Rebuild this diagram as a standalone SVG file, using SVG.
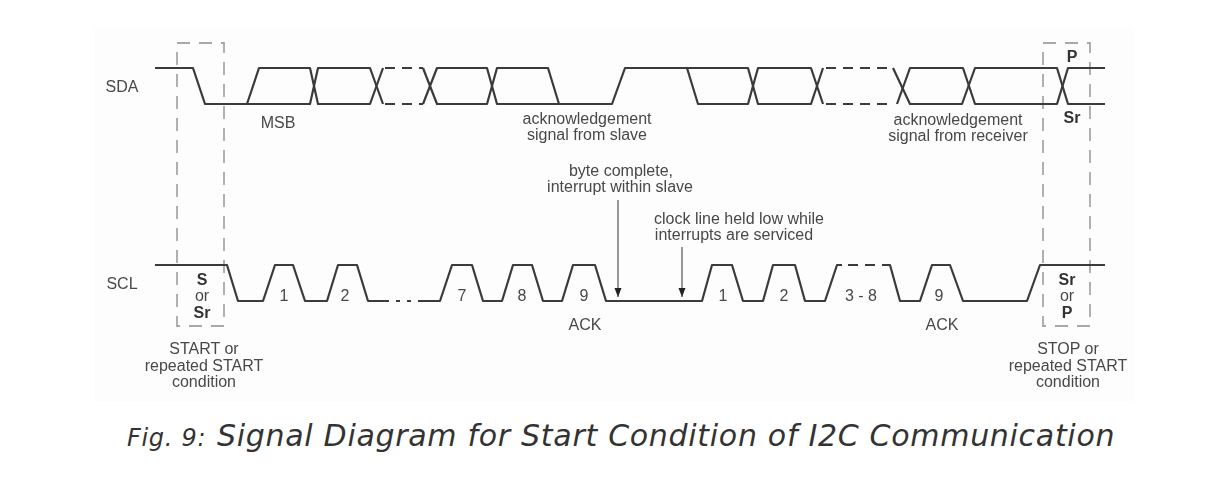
<svg xmlns="http://www.w3.org/2000/svg" width="1223" height="477" viewBox="0 0 1223 477">
<style>
.w{fill:none;stroke:#3a3a3a;stroke-width:2.2;stroke-linejoin:round}
.d{fill:none;stroke:#3a3a3a;stroke-width:2.2;stroke-dasharray:10 7}
.b{fill:none;stroke:#a8a8a8;stroke-width:1.8;stroke-dasharray:13 9}
.a{fill:none;stroke:#444;stroke-width:1.1}
.t{font-family:"Liberation Sans",Arial,sans-serif;font-size:16px;fill:#484848;text-anchor:middle}
.k{font-weight:bold;fill:#333}
.c{font-family:"DejaVu Sans",Verdana,sans-serif;font-style:italic;fill:#333;letter-spacing:.7px}
</style>
<defs>
<filter id="soft" x="-5%" y="-5%" width="110%" height="110%"><feGaussianBlur stdDeviation="0.6"/></filter>
<marker id="ah" markerWidth="10" markerHeight="8" refX="9" refY="4" orient="auto" markerUnits="userSpaceOnUse"><path d="M0 0.5L9 4L0 7.5Z" fill="#222"/></marker>
</defs>
<rect width="1223" height="477" fill="#fff"/>
<rect x="94" y="28" width="1040" height="374" fill="#fdfdfd"/>
<g filter="url(#soft)">
<g id="start-box"><rect class="b" x="177" y="43" width="47" height="283"/></g>
<g id="stop-box"><rect class="b" x="1043" y="43" width="47" height="283"/></g>
<g id="connectors">
<g id="sda">
<path class="w" d="M155 68H193L205 104H247L259 68H310L318 104H370L383 68"/>
<path class="w" d="M247 104H310L318 68H370L383 104"/>
<path class="d" d="M385 68H423M385 104H423"/>
<path class="w" d="M423 68L437 104H487L497 68H548L559 104H612L625 68H748L758 104H811L823 68"/>
<path class="w" d="M423 104L437 68H487L497 104H559"/>
<path class="w" d="M687 68L698 104H748L758 68H811L823 104"/>
<path class="d" d="M826 68H892M826 104H892"/>
<path class="w" d="M893 68L910 104H962L975 68H1057L1068 104H1105"/>
<path class="w" d="M897 104L910 68H963L975 104H1057L1068 68H1105"/>
</g>
<g id="scl">
<path class="w" d="M155 265H227L238 301H263L275 265H293L305 301H327L338 265H357L368 301H389"/>
<path class="d" d="M396 301H414" style="stroke-dasharray:4 7"/>
<path class="w" d="M418 301H440L452 265H472L483 301H502L513 265H532L543 301H562L573 265H595L606 301H702L712 265H732L743 301H763L773 265H795L805 301H825L837 265H842"/>
<path class="d" d="M848 265H884"/>
<path class="w" d="M884 265H890L900 301H920L932 265H950L963 301H1027L1040 265H1105"/>
</g>
<path class="a" d="M618 200V297" marker-end="url(#ah)"/>
<path class="a" d="M682 247V297" marker-end="url(#ah)"/>
</g>
<g id="labels">
<text class="t" x="122" y="92">SDA</text>
<text class="t" x="122" y="289">SCL</text>
<text class="t" x="278" y="128">MSB</text>
<text class="t" x="587" y="124">acknowledgement</text>
<text class="t" x="587" y="140">signal from slave</text>
<text class="t" x="958" y="125">acknowledgement</text>
<text class="t" x="958" y="141">signal from receiver</text>
<text class="t k" x="1072" y="62">P</text>
<text class="t k" x="1072" y="123">Sr</text>
<text class="t" x="621" y="176">byte complete,</text>
<text class="t" x="620" y="192">interrupt within slave</text>
<text class="t" x="739" y="224">clock line held low while</text>
<text class="t" x="734" y="240">interrupts are serviced</text>
<text class="t k" x="202" y="285">S</text>
<text class="t" x="202" y="301">or</text>
<text class="t k" x="202" y="318">Sr</text>
<text class="t k" x="1067" y="285">Sr</text>
<text class="t" x="1067" y="301">or</text>
<text class="t k" x="1067" y="318">P</text>
<text class="t" x="284" y="301">1</text>
<text class="t" x="345" y="301">2</text>
<text class="t" x="462" y="301">7</text>
<text class="t" x="522" y="301">8</text>
<text class="t" x="584" y="301">9</text>
<text class="t" x="723" y="301">1</text>
<text class="t" x="784" y="301">2</text>
<text class="t" x="861" y="301">3 - 8</text>
<text class="t" x="939" y="301">9</text>
<text class="t" x="585" y="330">ACK</text>
<text class="t" x="942" y="330">ACK</text>
<text class="t" x="204" y="354">START or</text>
<text class="t" x="204" y="371">repeated START</text>
<text class="t" x="204" y="387">condition</text>
<text class="t" x="1068" y="354">STOP or</text>
<text class="t" x="1068" y="371">repeated START</text>
<text class="t" x="1068" y="387">condition</text>
</g>
</g>
<text class="c" x="127" y="446" font-size="24">Fig. 9:</text>
<text class="c" x="217" y="446" font-size="30">Signal Diagram for Start Condition of I2C Communication</text>
</svg>
